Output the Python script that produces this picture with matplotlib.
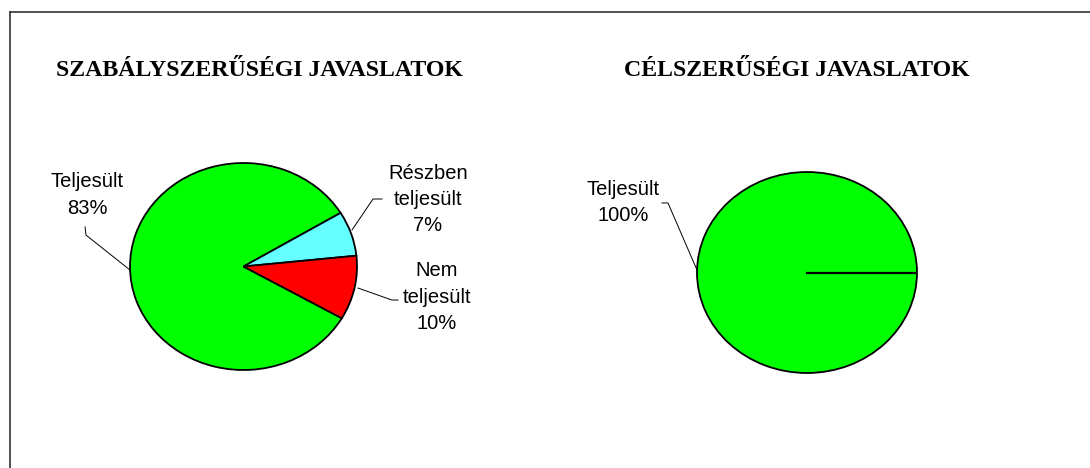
import matplotlib
matplotlib.use('Agg')
import matplotlib.pyplot as plt
from matplotlib.lines import Line2D

# ── data ──
LEFT_TITLE = 'SZABÁLYSZERŰSÉGI JAVASLATOK'
LEFT_LABELS = ['Teljesült', 'Részben\nteljesült', 'Nem\nteljesült']
LEFT_VALUES = [83, 7, 10]
LEFT_COLORS = ['#00FF00', '#66FFFF', '#FF0000']

RIGHT_TITLE = 'CÉLSZERŰSÉGI JAVASLATOK'
RIGHT_LABELS = ['Teljesült']
RIGHT_VALUES = [100]
RIGHT_COLORS = ['#00FF00']

W, H = 1090, 468
fig = plt.figure(figsize=(W / 100, H / 100), dpi=100)
fig.patch.set_facecolor('white')

# chart frame (top and left edges visible)
frame_kw = dict(color='#333333', lw=1.2, transform=fig.transFigure)
fig.add_artist(Line2D([10 / W, 1.0], [1 - 11.5 / H, 1 - 11.5 / H], **frame_kw))
fig.add_artist(Line2D([10 / W, 10 / W], [0, 1 - 11.5 / H], **frame_kw))


def px_axes(x0, y0, x1, y1):
    """axes whose box is the pie ellipse, given in image pixels"""
    return fig.add_axes([x0 / W, 1 - y1 / H, (x1 - x0) / W, (y1 - y0) / H])


def draw_pie(ax, values, colors, startangle):
    ax.pie(values, colors=colors, startangle=startangle, counterclock=False,
           wedgeprops=dict(edgecolor='black', linewidth=1.3))
    ax.set_aspect('auto')
    ax.set_xlim(-1, 1)
    ax.set_ylim(-1, 1)
    ax.axis('off')


def label(ax, text, pos, leader):
    ax.text(pos[0], pos[1], text, ha='center', va='center', fontsize=14.5,
            family='Liberation Sans', linespacing=1.47, clip_on=False)
    xs, ys = zip(*leader)
    ax.plot(xs, ys, color='black', lw=0.7, clip_on=False)


# ── left pie ──
ax1 = px_axes(130, 163, 357, 370)
draw_pie(ax1, LEFT_VALUES, LEFT_COLORS, -30)
pcts = [f'{v}%' for v in LEFT_VALUES]
label(ax1, f'{LEFT_LABELS[0]}\n{pcts[0]}', (-1.379, 0.691),
      [(-1.396, 0.382), (-1.388, 0.304), (-1.0, -0.034)])
label(ax1, f'{LEFT_LABELS[1]}\n{pcts[1]}', (1.626, 0.643),
      [(1.220, 0.652), (1.141, 0.652), (0.956, 0.353)])
label(ax1, f'{LEFT_LABELS[2]}\n{pcts[2]}', (1.705, -0.295),
      [(1.009, -0.208), (1.308, -0.324), (1.361, -0.324)])

# ── right pie ──
ax2 = px_axes(697, 172, 917, 373)
draw_pie(ax2, RIGHT_VALUES, RIGHT_COLORS, 0)
# full-circle wedge has no radius drawn; add the slice edge at the start angle
ax2.plot([0, 1], [0, 0], color='black', lw=1.6)
label(ax2, f'{RIGHT_LABELS[0]}\n{RIGHT_VALUES[0]}%', (-1.673, 0.701),
      [(-1.318, 0.692), (-1.264, 0.692), (-1.0, 0.025)])

# ── titles ──
title_kw = dict(ha='center', va='center', fontsize=17.2, fontweight='bold',
                family='Liberation Serif')
fig.text(259 / W, 1 - 71 / H, LEFT_TITLE, **title_kw)
fig.text(797 / W, 1 - 71 / H, RIGHT_TITLE, **title_kw)

fig.savefig('out.png', dpi=100, facecolor='white')
